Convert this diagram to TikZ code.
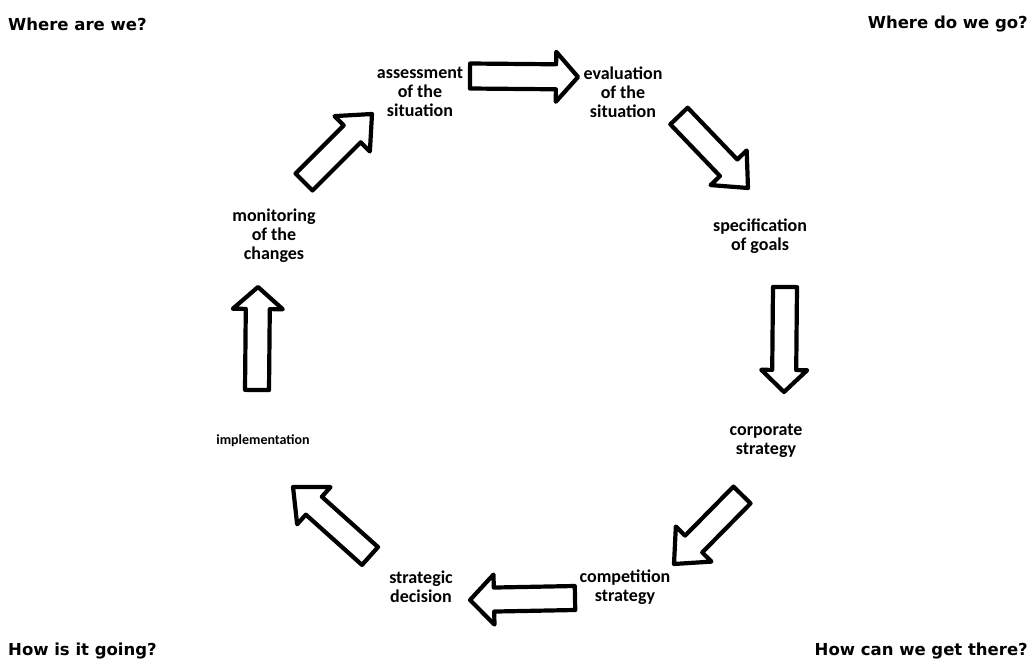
\documentclass[tikz,border=0pt]{standalone}
\usepackage{fontspec}
\setmainfont{Carlito}
\newfontfamily\cornerfont{DejaVu Sans}
\usetikzlibrary{calc}
\tikzset{
  arr/.style={draw=black, fill=white, line width=4.2pt, line join=round},
  lbl/.style={font=\bfseries\fontsize{18}{19}\selectfont, align=center, inner sep=0pt},
  corner/.style={font=\cornerfont\bfseries\fontsize{16.5}{19}\selectfont, inner sep=0pt}
}
% #1 tail coordinate, #2 tip coordinate, #3 body half-width, #4 head half-width, #5 head length
\newcommand\blockarrow[5]{%
  \coordinate (#1-base) at ($(#2)!#5pt!(#1)$);
  \draw[arr] ($(#1)!#3pt!90:(#2)$) -- ($(#1-base)!#3pt!90:(#2)$) -- ($(#1-base)!#4pt!90:(#2)$)
    -- (#2) -- ($(#1-base)!#4pt!-90:(#2)$) -- ($(#1-base)!#3pt!-90:(#2)$) -- ($(#1)!#3pt!-90:(#2)$) -- cycle;
}
\begin{document}
\begin{tikzpicture}[x=1pt,y=-1pt]
\useasboundingbox (0,0) rectangle (1036,668);
\fill[white] (0,0) rectangle (1036,668);
% labels
\node[lbl] (assess) at (420,92) {assessment\\of the\\situation};
\node[lbl] (eval) at (623,92) {evaluation\\of the\\situation};
\node[lbl] (spec) at (760,236) {specification\\of goals};
\node[lbl] (corp) at (766,441) {corporate\\strategy};
\node[lbl] (comp) at (625,587) {competition\\strategy};
\node[lbl] (strat) at (421,587) {strategic\\decision};
\node[lbl, font=\bfseries\fontsize{14}{15}\selectfont] (impl) at (263,441) {implementation};
\node[lbl] (monit) at (274,236) {monitoring\\of the\\changes};
% corner questions
\node[corner, anchor=west] (q1) at (8,24) {Where are we?};
\node[corner, anchor=east] (q2) at (1028,24) {Where do we go?};
\node[corner, anchor=west] (q3) at (8,651) {How is it going?};
\node[corner, anchor=east] (q4) at (1028,651) {How can we get there?};
% arrow end points
\coordinate (t1) at (470,76);  \coordinate (p1) at (578,77);
\coordinate (t2) at (679,116); \coordinate (p2) at (748,188);
\coordinate (t3) at (785,287); \coordinate (p3) at (784,392);
\coordinate (t4) at (742,495); \coordinate (p4) at (674,564);
\coordinate (t5) at (575,598); \coordinate (p5) at (470,600);
\coordinate (t6) at (370,556); \coordinate (p6) at (293,487);
\coordinate (t7) at (257,390); \coordinate (p7) at (258,287);
\coordinate (t8) at (304,182); \coordinate (p8) at (372,114);
\blockarrow{t1}{p1}{12.5}{25}{22}
\blockarrow{t2}{p2}{12}{25}{28}
\blockarrow{t3}{p3}{12}{23}{22}
\blockarrow{t4}{p4}{12}{25}{28}
\blockarrow{t5}{p5}{12}{25}{24}
\blockarrow{t6}{p6}{12}{25}{28}
\blockarrow{t7}{p7}{12}{25}{22}
\blockarrow{t8}{p8}{12}{25}{28}
\end{tikzpicture}
\end{document}
